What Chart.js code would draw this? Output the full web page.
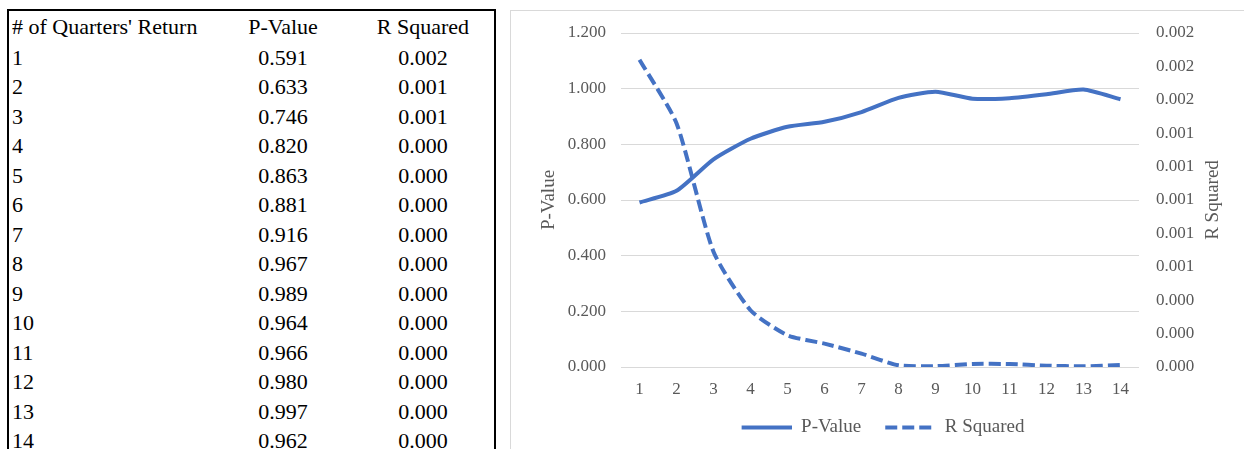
<!DOCTYPE html>
<html>
<head>
<meta charset="utf-8">
<script src="https://cdn.jsdelivr.net/npm/chart.js@4"></script>
<style>
    body { margin: 0; background: #fff; width: 1244px; height: 449px; overflow: hidden; position: relative; }
    #tbl { position: absolute; left: 7px; top: 9px; border: 2px solid #000; border-collapse: collapse;
           font-family: "Liberation Serif", serif; font-size: 22px; color: #000; table-layout: fixed; }
    #tbl td { height: 29.5px; line-height: 29.5px; padding: 0; white-space: nowrap; }
    #tbl tr:first-child td { height: 31.5px; line-height: 31.5px; }
    #tbl td.c1 { width: 202px; padding-left: 3px; text-align: left; }
    #tbl td.c2 { width: 138px; text-align: center; }
    #tbl td.c3 { width: 142px; text-align: center; }
    #panel { position: absolute; left: 510px; top: 10px; width: 745px; height: 450px; border: 1px solid #d9d9d9; }
    #wrap { position: absolute; left: 0; top: 0; width: 733px; height: 438px; }
</style>
</head>
<body>
<table id="tbl"><tbody id="tbody"></tbody></table>
<div id="panel"><div id="wrap"><canvas id="lineChart"></canvas></div></div>
<script>
const quarters = ['1', '2', '3', '4', '5', '6', '7', '8', '9', '10', '11', '12', '13', '14'];
const pValues = [0.591, 0.633, 0.746, 0.820, 0.863, 0.881, 0.916, 0.967, 0.989, 0.964, 0.966, 0.980, 0.997, 0.962];
const rSquared = [0.00184, 0.00146, 0.00069, 0.00034, 0.00019, 0.00014, 0.00008, 0.00001,
                  0.000005, 0.000018, 0.000018, 0.000008, 0.000004, 0.000012];
const tableHeaders = ["# of Quarters' Return", 'P-Value', 'R Squared'];

const blue = '#4472C4';
const rDash = [12, 5];

function buildTable() {
    const body = document.getElementById('tbody');
    const rows = [tableHeaders].concat(quarters.map((q, i) =>
        [q, pValues[i].toFixed(3), rSquared[i].toFixed(3)]));
    rows.forEach(r => {
        const tr = document.createElement('tr');
        r.forEach((txt, j) => {
            const td = document.createElement('td');
            td.className = 'c' + (j + 1);
            td.textContent = txt;
            tr.appendChild(td);
        });
        body.appendChild(tr);
    });
}

// legend swatch: a short line (solid or dashed) with a little space on the left
function makeSwatch(dash) {
    const c = document.createElement('canvas');
    c.width = 57;
    c.height = 6;
    const ctx = c.getContext('2d');
    ctx.strokeStyle = blue;
    ctx.lineWidth = 4;
    ctx.setLineDash(dash);
    ctx.beginPath();
    ctx.moveTo(7, 3);
    ctx.lineTo(57, 3);
    ctx.stroke();
    return c;
}

const rightTitle = {
    id: 'rightTitle',
    afterDraw(chart) {
        const s = chart.scales.y1;
        const a = chart.chartArea;
        const ctx = chart.ctx;
        ctx.save();
        ctx.translate(s.right - 12, (a.top + a.bottom) / 2);
        ctx.rotate(-Math.PI / 2);
        ctx.font = '19px "Liberation Serif"';
        ctx.fillStyle = '#595959';
        ctx.textAlign = 'center';
        ctx.textBaseline = 'middle';
        ctx.fillText('R Squared', 0, 0);
        ctx.restore();
    }
};

function createLineChart() {
    const tickFont = { family: 'Liberation Serif', size: 17 };
    new Chart(document.getElementById('lineChart'), {
        type: 'line',
        data: {
            labels: quarters,
            datasets: [{
                label: 'P-Value',
                data: pValues,
                borderColor: blue,
                backgroundColor: blue,
                borderWidth: 4,
                pointRadius: 0,
                pointStyle: makeSwatch([]),
                tension: 0.2,
                yAxisID: 'y'
            }, {
                label: 'R Squared',
                data: rSquared,
                borderColor: blue,
                backgroundColor: blue,
                borderWidth: 4,
                borderDash: rDash,
                pointRadius: 0,
                pointStyle: makeSwatch(rDash),
                tension: 0.2,
                yAxisID: 'y1'
            }]
        },
        options: {
            responsive: true,
            maintainAspectRatio: false,
            animation: false,
            events: [],
            layout: { padding: { left: 23, right: 19, top: 22, bottom: 2 } },
            plugins: {
                legend: {
                    position: 'bottom',
                    labels: {
                        usePointStyle: true,
                        pointStyleWidth: 57,
                        padding: 17,
                        color: '#595959',
                        font: { family: 'Liberation Serif', size: 19 }
                    }
                },
                tooltip: { enabled: false }
            },
            scales: {
                x: {
                    offset: true,
                    grid: { display: false },
                    border: { display: false },
                    ticks: { color: '#595959', font: tickFont, padding: 4 },
                    afterFit: s => { s.height = 34; }
                },
                y: {
                    position: 'left',
                    min: 0,
                    max: 1.2,
                    grid: { color: '#d9d9d9', drawTicks: false },
                    border: { display: false },
                    ticks: { stepSize: 0.2, color: '#595959', font: tickFont, padding: 15,
                             callback: v => v.toFixed(3) },
                    title: { display: true, text: 'P-Value', color: '#595959',
                             font: { family: 'Liberation Serif', size: 19 } },
                    afterFit: s => { s.width = 87; s.paddingTop = 0; s.paddingBottom = 0; }
                },
                y1: {
                    position: 'right',
                    min: 0,
                    max: 0.002,
                    grid: { drawOnChartArea: false, drawTicks: false },
                    border: { display: false },
                    ticks: { stepSize: 0.0002, color: '#595959', font: tickFont, padding: 17,
                             callback: v => v.toFixed(3) },
                    afterFit: s => { s.width = 86; s.paddingTop = 0; s.paddingBottom = 0; }
                }
            }
        },
        plugins: [rightTitle]
    });
}

buildTable();
createLineChart();
</script>
</body>
</html>
